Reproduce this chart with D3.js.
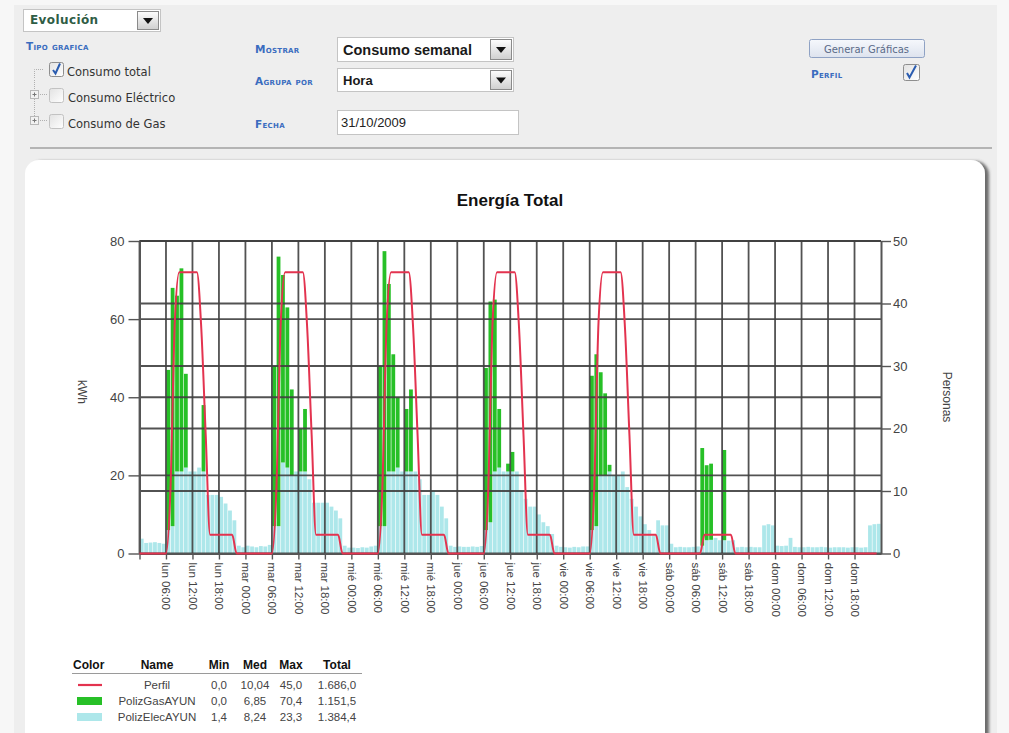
<!DOCTYPE html>
<html>
<head>
<meta charset="utf-8">
<script src="https://cdn.jsdelivr.net/npm/d3@7"></script>
<style>
  html, body { margin: 0; padding: 0; background: #f7f7f7; }
  svg { display: block; }
  .sc { font-family: "DejaVu Sans", Verdana, sans-serif; font-weight: bold; font-variant: small-caps; fill: #3a6cbf; }
</style>
</head>
<body>
<svg id="c" width="1009" height="733"></svg>
<script>
// hours of the week, lun 00:00 .. dom 23:00
const hours = d3.range(168);

// PolizElecAYUN (kWh), one line per day
const elec = [
  3.8,2.7,2.8,2.9,2.7,2.5, 6,7,21,21,22,21, 21,22,21,15,15,15, 14.5,12.8,11,8.5,2,1.6,   // lun
  2,1.8,1.6,1.9,1.8,2.2, 7,7,23.3,22,20,21, 21,21,19,13,13,13, 13,12,11,9,2,1.5,         // mar
  1.5,1.4,1.6,1.5,1.8,2, 7,7,21,21,22,21, 21,21,21,19,15,15, 16,15,12,9,2,1.7,           // mié
  1.8,1.7,1.7,1.8,1.7,1.9, 6,8,21,22,21,21, 21,21,16,14,12,12, 10,8,7,5,2,1.7,           // jue
  1.6,1.5,1.7,1.6,1.8,1.8, 6,7,20,20,21,20, 20,21,17,14,12,9.5, 7.5,6,4.6,8.5,7.2,7.2,   // vie
  2.5,1.6,1.7,1.6,1.6,1.7, 1.8,2,3.4,3.5,4,3.4, 3.4,3.3,3.4,1.6,1.7,1.6, 1.7,1.6,1.6,7.2,7.5,7.2, // sáb
  2,1.9,2,4,1.7,1.6, 1.6,1.7,1.6,1.6,1.7,1.6, 1.5,1.6,1.6,1.6,1.5,1.6, 1.6,1.5,1.6,7.2,7.5,7.6    // dom
];

// PolizGasAYUN (kWh), stacked on top of elec
const gas = [
  0,0,0,0,0,0, 41,61,45,52,24,0, 0,0,17,0,0,0, 0,0,0,0,0,0,        // lun
  0,0,0,0,0,0, 41,69,48,41,22,0, 11,16,0,0,0,0, 0,0,0,0,0,0,       // mar
  0,0,0,0,0,0, 41,70.4,48,30,18,0, 16,21,0,0,0,0, 0,0,0,0,0,0,     // mié
  0,0,0,0,0,0, 41.5,56.5,44,15,0,2, 5,0,0,0,0,0, 0,0,0,0,0,0,      // jue
  0,0,0,0,0,0, 39.5,44,26.4,21,1.7,0, 0,0,0,0,0,0, 0,0,0,0,0,0,    // vie
  0,0,0,0,0,0, 0,25,19.2,19.5,0,0, 23.1,0,0,0,0,0, 0,0,0,0,0,0,    // sáb
  0,0,0,0,0,0, 0,0,0,0,0,0, 0,0,0,0,0,0, 0,0,0,0,0,0               // dom
];

// Perfil (personas, right axis)
const perfil = [
  0,0,0,0,0,0, 0,10,37,45,45,45, 45,45,36,19,3,3, 3,3,3,3,0,0,   // lun
  0,0,0,0,0,0, 0,10,37,45,45,45, 45,45,36,19,3,3, 3,3,3,3,0,0,   // mar
  0,0,0,0,0,0, 0,10,37,45,45,45, 45,45,36,19,3,3, 3,3,3,3,0,0,   // mié
  0,0,0,0,0,0, 0,10,37,45,45,45, 45,45,36,19,3,3, 3,3,3,3,0,0,   // jue
  0,0,0,0,0,0, 0,10,37,45,45,45, 45,45,36,19,3,3, 3,3,3,3,0,0,   // vie
  0,0,0,0,0,0, 0,0,3,3,3,3, 3,3,3,0,0,0, 0,0,0,0,0,0,            // sáb
  0,0,0,0,0,0, 0,0,0,0,0,0, 0,0,0,0,0,0, 0,0,0,0,0,0             // dom
];

const tickHours  = d3.range(0, 168, 6);
const tickLabels = ['',
  'lun 06:00','lun 12:00','lun 18:00','mar 00:00','mar 06:00','mar 12:00','mar 18:00',
  'mié 00:00','mié 06:00','mié 12:00','mié 18:00','jue 00:00','jue 06:00','jue 12:00','jue 18:00',
  'vie 00:00','vie 06:00','vie 12:00','vie 18:00','sáb 00:00','sáb 06:00','sáb 12:00','sáb 18:00',
  'dom 00:00','dom 06:00','dom 12:00','dom 18:00'];
const leftTicks  = [0, 20, 40, 60, 80];
const rightTicks = [0, 10, 20, 30, 40, 50];

const legNames = ['Perfil', 'PolizGasAYUN', 'PolizElecAYUN'];
const legMin   = ['0,0', '0,0', '1,4'];
const legMed   = ['10,04', '6,85', '8,24'];
const legMax   = ['45,0', '70,4', '23,3'];
const legTotal = ['1.686,0', '1.151,5', '1.384,4'];

const C_RED = '#e3334f', C_GAS = '#27c027', C_ELEC = '#ade7ea', C_GRID = '#3f3f3f';
const UI = '"DejaVu Sans", Verdana, sans-serif', AR = '"Liberation Sans", Arial, sans-serif';

const svg = d3.select('#c');
const defs = svg.append('defs');
const gBtn = defs.append('linearGradient').attr('id', 'btn').attr('x1', 0).attr('y1', 0).attr('x2', 0).attr('y2', 1);
gBtn.append('stop').attr('offset', 0).attr('stop-color', '#fdfdfd');
gBtn.append('stop').attr('offset', 1).attr('stop-color', '#cfcfcf');
const gCb = defs.append('linearGradient').attr('id', 'cb').attr('x1', 0).attr('y1', 0).attr('x2', 1).attr('y2', 1);
gCb.append('stop').attr('offset', 0).attr('stop-color', '#e2e2e2');
gCb.append('stop').attr('offset', 1).attr('stop-color', '#ffffff');
const gGen = defs.append('linearGradient').attr('id', 'gen').attr('x1', 0).attr('y1', 0).attr('x2', 0).attr('y2', 1);
gGen.append('stop').attr('offset', 0).attr('stop-color', '#f6f8fc');
gGen.append('stop').attr('offset', 1).attr('stop-color', '#dde3ee');
defs.append('filter').attr('id', 'sh').attr('x', '-5%').attr('y', '-5%').attr('width', '112%').attr('height', '112%')
  .append('feDropShadow').attr('dx', 4).attr('dy', 1).attr('stdDeviation', 1.6)
  .attr('flood-color', '#555').attr('flood-opacity', 0.85);

// ---- page frame ----
svg.append('rect').attr('x', 14).attr('y', 5).attr('width', 983).attr('height', 740).attr('fill', '#eeeeee');
svg.append('line').attr('x1', 30).attr('x2', 992).attr('y1', 148).attr('y2', 148)
  .attr('stroke', '#b4b4b4').attr('stroke-width', 2);
svg.append('rect').attr('x', 25).attr('y', 160).attr('width', 960).attr('height', 620).attr('rx', 14)
  .attr('fill', '#fff').attr('filter', 'url(#sh)');

// ---- form controls ----
const ui = svg.append('g');

function txt(g, x, y, s, font, size, weight, fill) {
  return g.append('text').attr('x', x).attr('y', y).text(s)
    .style('font-family', font).style('font-size', size + 'px').style('font-weight', weight || 'normal')
    .attr('fill', fill || '#333');
}
function label(x, y, s) {
  ui.append('text').attr('class', 'sc').attr('x', x).attr('y', y).text(s)
    .style('font-size', '10.5px').style('letter-spacing', '0.3px');
}
function checkbox(x, y, s, on) {
  ui.append('rect').attr('x', x + .5).attr('y', y + .5).attr('width', s).attr('height', s).attr('rx', 2)
    .attr('fill', 'url(#cb)').attr('stroke', on ? '#8e8e8e' : '#c2c2c2');
  if (on) ui.append('path').attr('d', `M${x + 4},${y + s / 2 + 1} L${x + 6.5},${y + s - 2.5} L${x + s - 3},${y + 1.5}`)
    .attr('fill', 'none').attr('stroke', '#2a5cb0').attr('stroke-width', 2);
}
function dropdown(x, y, w, h) {
  ui.append('rect').attr('x', x + .5).attr('y', y + .5).attr('width', w).attr('height', h)
    .attr('fill', '#fff').attr('stroke', '#c4c4c4');
  const bx = x + w - 23;
  ui.append('rect').attr('x', bx + .5).attr('y', y + 2.5).attr('width', 21).attr('height', h - 4)
    .attr('fill', 'url(#btn)').attr('stroke', '#8a8a8a');
  const cx = bx + 11, cy = y + h / 2 + 1;
  ui.append('path').attr('d', `M${cx - 5},${cy - 3} L${cx + 5},${cy - 3} L${cx},${cy + 3} Z`).attr('fill', '#111');
}
function expander(x, y) {
  ui.append('rect').attr('x', x + .5).attr('y', y + .5).attr('width', 8).attr('height', 8)
    .attr('fill', '#f2f2f2').attr('stroke', '#b8b8b8');
  ui.append('path').attr('d', `M${x + 2.5},${y + 4.5} H${x + 6.5} M${x + 4.5},${y + 2.5} V${y + 6.5}`)
    .attr('stroke', '#777').attr('stroke-width', 1);
}

// Evolución select
dropdown(23, 9, 137, 22);
txt(ui, 30, 24, 'Evolución', UI, 12, 'bold', '#2f5d45').style('letter-spacing', '0.4px');

label(26, 50, 'Tipo grafica');
// tree lines
ui.append('path').attr('d', 'M34.5,78 V69.5 H44 M34.5,80 V90 M38,94.5 H47 M34.5,99 V116 M38,120.5 H47')
  .attr('fill', 'none').attr('stroke', '#b0b0b0').attr('stroke-dasharray', '1,1');
expander(30, 90);
expander(30, 116);
checkbox(49, 62, 14, true);
checkbox(49, 88, 14, false);
checkbox(49, 114, 14, false);
txt(ui, 67, 76, 'Consumo total', UI, 11.5);
txt(ui, 68, 102, 'Consumo Eléctrico', UI, 11.5);
txt(ui, 68, 128, 'Consumo de Gas', UI, 11.5);

label(255, 53, 'Mostrar');
label(255, 85, 'Agrupa por');
label(255, 128, 'Fecha');
dropdown(337, 37, 176, 24);
txt(ui, 343, 55, 'Consumo semanal', AR, 14.5, 'bold', '#1a1a1a');
dropdown(337, 68, 176, 23);
txt(ui, 343, 85, 'Hora', AR, 13, 'bold', '#1a1a1a');
ui.append('rect').attr('x', 337.5).attr('y', 110.5).attr('width', 181).attr('height', 24)
  .attr('fill', '#fff').attr('stroke', '#c4c4c4');
txt(ui, 341, 127, '31/10/2009', AR, 13, 'normal', '#222');

ui.append('rect').attr('x', 809.5).attr('y', 39.5).attr('width', 115).attr('height', 18).attr('rx', 2)
  .attr('fill', 'url(#gen)').attr('stroke', '#8fa2c4');
txt(ui, 866.5, 52.5, 'Generar Gráficas', UI, 10, 'normal', '#5a6a88').attr('text-anchor', 'middle');
label(811, 78, 'Perfil');
checkbox(903, 64, 16, true);

// ---- chart ----
const X0 = 139.5, X1 = 881, Y0 = 553.5, YT = 241;
const xt = d3.scaleLinear().domain([0, 168]).range([X0, X1]);
const xb = d3.scaleBand().domain(hours).range([X0, X1]).paddingInner(0.14).paddingOuter(0.07);
const yL = d3.scaleLinear().domain([0, 80]).range([Y0, YT]);
const yR = d3.scaleLinear().domain([0, 50]).range([Y0, YT]);

const ch = svg.append('g');

txt(ch, 510, 206, 'Energía Total', AR, 17, 'bold', '#111').attr('text-anchor', 'middle');

// stacked bars: elec at the bottom, gas on top
const rows = hours.map(h => ({ h, elec: elec[h], gas: gas[h] }));
const stacked = d3.stack().keys(['elec', 'gas'])(rows);
const colors = { elec: C_ELEC, gas: C_GAS };
ch.selectAll('g.ser').data(stacked).join('g').attr('class', 'ser')
  .attr('fill', d => colors[d.key])
  .selectAll('rect').data(d => d.filter(p => p[1] > p[0])).join('rect')
  .attr('x', d => xb(d.data.h)).attr('width', xb.bandwidth())
  .attr('y', d => yL(d[1])).attr('height', d => yL(d[0]) - yL(d[1]));

// grid over the bars
const grid = ch.append('g').attr('stroke', C_GRID).attr('stroke-width', 1.8).attr('stroke-opacity', 0.9);
grid.selectAll('line.h').data(leftTicks).join('line').attr('class', 'h')
  .attr('x1', X0).attr('x2', X1).attr('y1', d => yL(d)).attr('y2', d => yL(d));
grid.selectAll('line.r').data(rightTicks.slice(1)).join('line').attr('class', 'r')
  .attr('x1', X0).attr('x2', X1).attr('y1', d => yR(d)).attr('y2', d => yR(d));
grid.selectAll('line.v').data(tickHours).join('line').attr('class', 'v')
  .attr('x1', d => xt(d)).attr('x2', d => xt(d)).attr('y1', YT).attr('y2', Y0);

// axes
function styleAxis(g, size) {
  g.selectAll('.domain').attr('stroke', '#555').attr('stroke-width', 2);
  g.selectAll('.tick line').attr('stroke', '#555').attr('stroke-width', 1.4);
  g.selectAll('text').attr('fill', '#444').style('font-family', AR).style('font-size', size + 'px');
}
const axL = ch.append('g').attr('transform', `translate(${X0},0)`)
  .call(d3.axisLeft(yL).tickValues(leftTicks).tickSize(11).tickSizeOuter(0).tickPadding(4));
styleAxis(axL, 13);
const axR = ch.append('g').attr('transform', `translate(${X1},0)`)
  .call(d3.axisRight(yR).tickValues(rightTicks).tickSize(10).tickSizeOuter(0).tickPadding(2));
styleAxis(axR, 13);
const axB = ch.append('g').attr('transform', `translate(0,${Y0})`)
  .call(d3.axisBottom(xt).tickValues(tickHours).tickFormat((d, i) => tickLabels[i]).tickSize(6).tickSizeOuter(0));
styleAxis(axB, 11.5);
axB.selectAll('text').attr('transform', 'rotate(90)').attr('text-anchor', 'start')
  .attr('x', 9).attr('y', 0).attr('dy', '0.35em');

// perfil line on top
ch.append('path').datum(perfil)
  .attr('fill', 'none').attr('stroke', C_RED).attr('stroke-width', 2).attr('stroke-linejoin', 'round')
  .attr('d', d3.line().x((d, i) => xt(i)).y(d => yR(d)).curve(d3.curveMonotoneX));

// axis titles
txt(ch, 0, 0, 'kWh', AR, 12, 'normal', '#444').attr('text-anchor', 'middle')
  .attr('transform', 'translate(78,392) rotate(90)');
txt(ch, 0, 0, 'Personas', AR, 12, 'normal', '#444').attr('text-anchor', 'middle')
  .attr('transform', 'translate(943,397) rotate(90)');

// ---- legend table ----
const lg = svg.append('g');
const cols = [
  { x: 73,  a: 'start',  h: 'Color' },
  { x: 157, a: 'middle', h: 'Name',  v: legNames },
  { x: 219, a: 'middle', h: 'Min',   v: legMin },
  { x: 255, a: 'middle', h: 'Med',   v: legMed },
  { x: 291, a: 'middle', h: 'Max',   v: legMax },
  { x: 337, a: 'middle', h: 'Total', v: legTotal }
];
const rowY = [689, 705, 721];
cols.forEach(c => {
  txt(lg, c.x, 669, c.h, AR, 12, 'bold', '#111').attr('text-anchor', c.a);
  if (c.v) c.v.forEach((s, i) => txt(lg, c.x, rowY[i], s, AR, 11.5, 'normal', '#444').attr('text-anchor', c.a));
});
lg.append('line').attr('x1', 72).attr('x2', 362).attr('y1', 673.5).attr('y2', 673.5)
  .attr('stroke', '#9a9a9a').attr('stroke-width', 1.2);
lg.append('line').attr('x1', 78).attr('x2', 102).attr('y1', 685).attr('y2', 685)
  .attr('stroke', C_RED).attr('stroke-width', 2.2);
lg.append('rect').attr('x', 77).attr('y', 697).attr('width', 25).attr('height', 8).attr('fill', C_GAS);
lg.append('rect').attr('x', 77).attr('y', 713).attr('width', 25).attr('height', 8).attr('fill', C_ELEC);
</script>
</body>
</html>
